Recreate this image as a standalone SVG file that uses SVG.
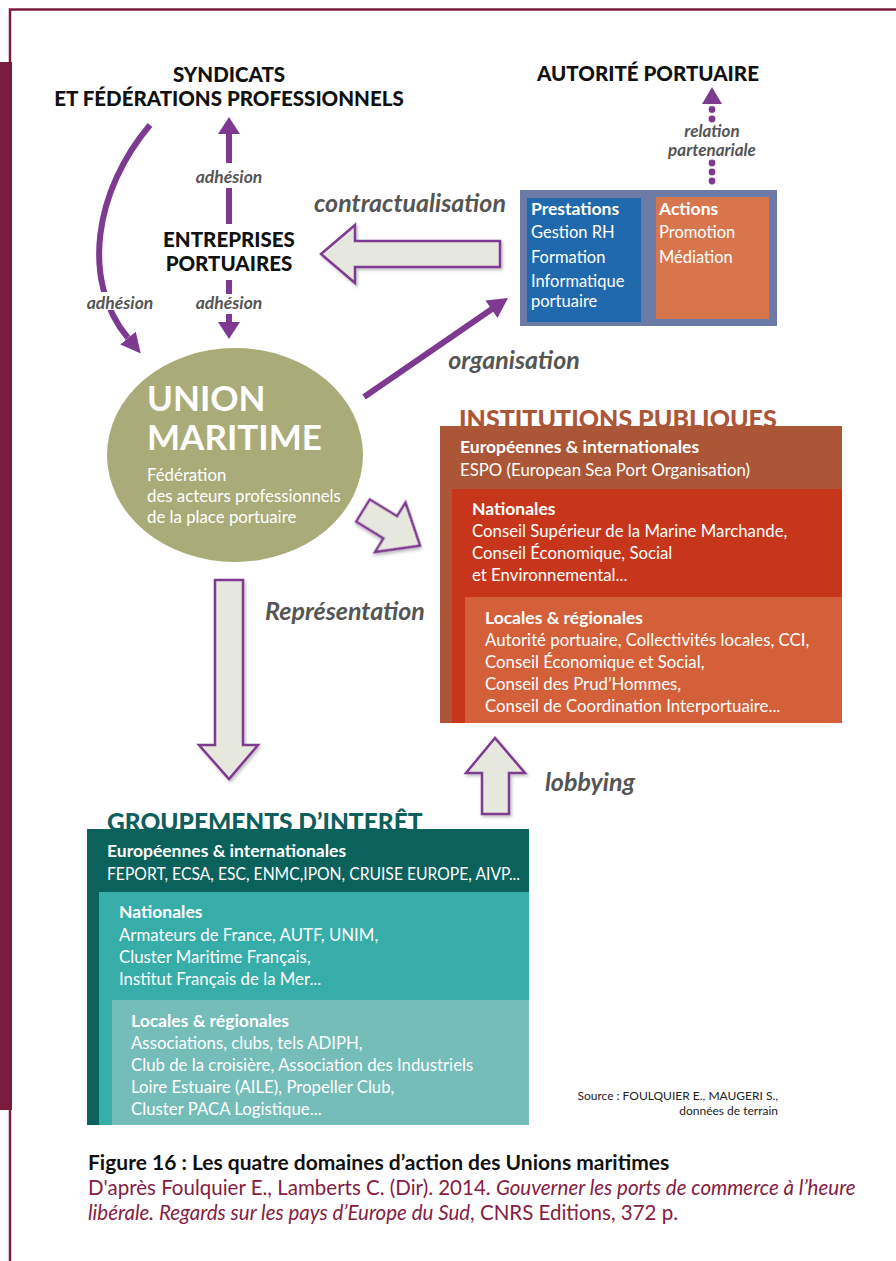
<svg xmlns="http://www.w3.org/2000/svg" width="896" height="1261" viewBox="0 0 896 1261">
<style>
.t{font-family:Lato,"Source Sans Pro","Liberation Sans",sans-serif}
.ttl{font-family:Lato,"Liberation Sans",sans-serif;font-weight:900;font-size:20.5px;fill:#111;text-anchor:middle}
.lbl{font-family:Lato,"Liberation Sans",sans-serif;font-weight:700;font-style:italic;fill:#555}
.w{fill:#fff;font-family:Lato,"Liberation Sans",sans-serif;font-size:16.8px}
.wb{fill:#fff;font-family:Lato,"Liberation Sans",sans-serif;font-size:17.5px;font-weight:700}
.bx{fill:#fff;font-family:Lato,"Liberation Sans",sans-serif;font-size:16.5px}
.pl{stroke:#7e3a91;stroke-width:6;fill:none}
.hol{fill:#e7e8dd;stroke:#7e3a91;stroke-width:2.5;filter:url(#sh)}
.ph{fill:#7e3a91}
</style>
<defs>
<filter id="sh" x="-20%" y="-20%" width="140%" height="140%"><feDropShadow dx="1.5" dy="2" stdDeviation="1.5" flood-color="#000" flood-opacity="0.25"/></filter>
<marker id="ah" viewBox="0 0 10 10" refX="0" refY="5" markerWidth="20" markerHeight="20" markerUnits="userSpaceOnUse" orient="auto"><path d="M0,0 L10,5 L0,10 z" fill="#7e3a91"/></marker>
</defs>
<g id="frame">
<path d="M10,62 V9.5 H896" fill="none" stroke="#7a1c3d" stroke-width="2.5"/>
<rect x="0" y="62" width="12" height="1048" fill="#7a1c3d"/>
<line x1="10" y1="1110" x2="10" y2="1261" stroke="#7a1c3d" stroke-width="2.5"/>
</g>
<g id="syndicats">
<text class="ttl" x="229" y="82">SYNDICATS</text>
<text class="ttl" x="229" y="106">ET FÉDÉRATIONS PROFESSIONNELS</text>
</g>
<g id="autorite">
<text class="ttl" x="648" y="81">AUTORITÉ PORTUAIRE</text>
</g>
<g id="entreprises">
<text class="ttl" x="229" y="247">ENTREPRISES</text>
<text class="ttl" x="229" y="271">PORTUAIRES</text>
</g>
<g id="connectors">
<polygon class="ph" points="229,117 240,134 218,134"/>
<line class="pl" x1="229" y1="133" x2="229" y2="163"/>
<line class="pl" x1="229" y1="188" x2="229" y2="224"/>
<text class="lbl" x="229" y="183" font-size="17.5" text-anchor="middle">adhésion</text>
<line class="pl" x1="229" y1="280" x2="229" y2="294"/>
<text class="lbl" x="229" y="309" font-size="17.5" text-anchor="middle">adhésion</text>
<line class="pl" x1="229" y1="314" x2="229" y2="323"/>
<polygon class="ph" points="218,322 240,322 229,339"/>
<path class="pl" d="M150,125 C95,190 80,280 128,338" marker-end="url(#ah)"/>
<rect x="84" y="292" width="72" height="18" fill="#fff"/>
<text class="lbl" x="120" y="309" font-size="17.5" text-anchor="middle">adhésion</text>
<polygon class="ph" points="712,87 722,104 702,104"/>
<circle class="ph" cx="712" cy="109.5" r="3.4"/>
<circle class="ph" cx="712" cy="119" r="3.4"/>
<circle class="ph" cx="712" cy="163" r="3.4"/>
<circle class="ph" cx="712" cy="172" r="3.4"/>
<circle class="ph" cx="712" cy="181" r="3.4"/>
<text class="lbl" x="712" y="137" font-size="17" text-anchor="middle">relation</text>
<text class="lbl" x="712" y="156" font-size="17" text-anchor="middle">partenariale</text>
<polygon class="hol" points="500,241 355,241 355,225 321,254 355,283 355,267 500,267"/>
<text class="lbl" x="410" y="212" font-size="25" text-anchor="middle">contractualisation</text>
<line class="pl" x1="364" y1="397" x2="492" y2="309"/>
<polygon class="ph" points="508,298 497.5,318 485.5,300.5"/>
<text class="lbl" x="514" y="369" font-size="25" text-anchor="middle">organisation</text>
<polygon class="hol" transform="translate(363,510.5) rotate(31.6)" points="0,-13 32,-13 32,-29 67,0 32,29 32,13 0,13"/>
<polygon class="hol" points="215,580 243,580 243,745 258,745 229,779 199,745 215,745"/>
<text class="lbl" x="345" y="620" font-size="25" text-anchor="middle">Représentation</text>
<polygon class="hol" points="482,814 509,814 509,773 525,773 495,738 466,773 482,773"/>
<text class="lbl" x="590" y="791" font-size="25" text-anchor="middle">lobbying</text>
</g>
<g id="services">
<rect x="520" y="190" width="257" height="136" fill="#6c7aa6"/>
<rect x="527" y="198" width="114" height="124" fill="#1f69ac"/>
<rect x="656" y="197" width="113" height="122" fill="#d7764d"/>
<text class="wb" x="531" y="215">Prestations</text>
<text class="bx" x="531" y="238">Gestion RH</text>
<text class="bx" x="531" y="263">Formation</text>
<text class="bx" x="531" y="287">Informatique</text>
<text class="bx" x="531" y="307">portuaire</text>
<text class="wb" x="659" y="215">Actions</text>
<text class="bx" x="659" y="238">Promotion</text>
<text class="bx" x="659" y="263">Médiation</text>
</g>
<g id="union">
<ellipse cx="235" cy="455" rx="128" ry="107" fill="#a9ac78"/>
<text x="147" y="411" fill="#fff" class="t" font-weight="700" font-size="35">UNION</text>
<text x="147" y="450" fill="#fff" class="t" font-weight="700" font-size="35">MARITIME</text>
<text class="w" x="147" y="481">Fédération</text>
<text class="w" x="147" y="502">des acteurs professionnels</text>
<text class="w" x="147" y="523">de la place portuaire</text>
</g>
<g id="institutions">
<text x="459" y="428" class="t" font-weight="900" font-size="25" fill="#ad5537">INSTITUTIONS PUBLIQUES</text>
<rect x="440" y="426" width="402" height="297" fill="#ab5737"/>
<rect x="452" y="489" width="390" height="234" fill="#c7361b"/>
<rect x="465" y="597" width="377" height="126" fill="#d4603a"/>
<text class="wb" x="460" y="453">Européennes &amp; internationales</text>
<text class="w" x="460" y="476">ESPO (European Sea Port Organisation)</text>
<text class="wb" x="472" y="515">Nationales</text>
<text class="w" x="472" y="537">Conseil Supérieur de la Marine Marchande,</text>
<text class="w" x="472" y="559">Conseil Économique, Social</text>
<text class="w" x="472" y="581">et Environnemental...</text>
<text class="wb" x="485" y="624">Locales &amp; régionales</text>
<text class="w" x="485" y="646">Autorité portuaire, Collectivités locales, CCI,</text>
<text class="w" x="485" y="668">Conseil Économique et Social,</text>
<text class="w" x="485" y="690">Conseil des Prud’Hommes,</text>
<text class="w" x="485" y="712">Conseil de Coordination Interportuaire...</text>
</g>
<g id="groupements">
<text x="107" y="831" class="t" font-weight="900" font-size="24.5" fill="#0d5f5b">GROUPEMENTS D’INTERÊT</text>
<rect x="87" y="829" width="442" height="296" fill="#0b615c"/>
<rect x="99" y="892" width="430" height="233" fill="#37ada9"/>
<rect x="112" y="1000" width="417" height="125" fill="#74bdb8"/>
<text class="wb" x="107" y="857">Européennes &amp; internationales</text>
<text class="w" x="107" y="880" textLength="413" lengthAdjust="spacingAndGlyphs">FEPORT, ECSA, ESC, ENMC,IPON, CRUISE EUROPE, AIVP...</text>
<text class="wb" x="119" y="918">Nationales</text>
<text class="w" x="119" y="941">Armateurs de France, AUTF, UNIM,</text>
<text class="w" x="119" y="963">Cluster Maritime Français,</text>
<text class="w" x="119" y="985">Institut Français de la Mer...</text>
<text class="wb" x="131" y="1027">Locales &amp; régionales</text>
<text class="w" x="131" y="1049">Associations, clubs, tels ADIPH,</text>
<text class="w" x="131" y="1071">Club de la croisière, Association des Industriels</text>
<text class="w" x="131" y="1093">Loire Estuaire (AILE), Propeller Club,</text>
<text class="w" x="131" y="1115">Cluster PACA Logistique...</text>
</g>
<g id="source">
<text class="t" x="778" y="1100" font-size="12" fill="#222" text-anchor="end">Source : FOULQUIER E., MAUGERI S.,</text>
<text class="t" x="778" y="1115" font-size="12" fill="#222" text-anchor="end">données de terrain</text>
</g>
<g id="caption">
<text class="t" x="88" y="1170" font-size="21" font-weight="700" fill="#111">Figure 16 : Les quatre domaines d’action des Unions maritimes</text>
<text class="t" x="88" y="1195" font-size="20.5" fill="#86203f">D'après Foulquier E., Lamberts C. (Dir). 2014. <tspan font-style="italic">Gouverner les ports de commerce à l’heure</tspan></text>
<text class="t" x="88" y="1220" font-size="20.5" fill="#86203f"><tspan font-style="italic">libérale. Regards sur les pays d’Europe du Sud</tspan>, CNRS Editions, 372 p.</text>
</g>
</svg>
